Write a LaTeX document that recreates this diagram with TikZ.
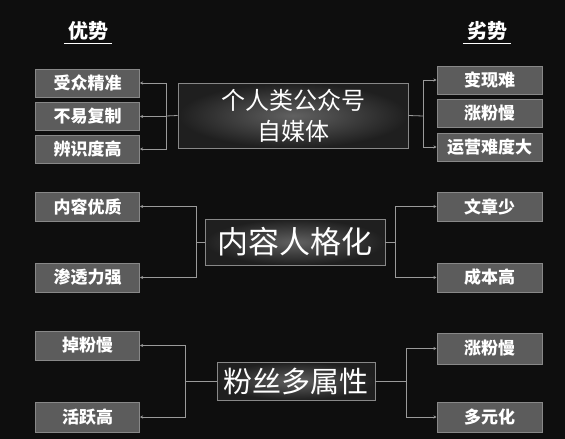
\documentclass[tikz,border=0pt]{standalone}
\usepackage{fontspec}
\setmainfont{Noto Sans CJK SC}
\usetikzlibrary{arrows.meta}
\definecolor{bgdark}{HTML}{0E0E0E}
\definecolor{boxgrey}{HTML}{5C5C5C}
\definecolor{edgegrey}{HTML}{888888}
\definecolor{linkgrey}{HTML}{9A9A9A}

\begin{document}
\begin{tikzpicture}[x=1pt,y=-1pt,
  item/.style={draw=edgegrey,line width=1pt,fill=boxgrey,text=white,font=\fontsize{17}{20}\selectfont\bfseries,minimum width=104pt,minimum height=28pt,inner sep=0pt},
  topic/.style={draw=edgegrey,line width=0.8pt,inner color=black!62,outer color=black!88,text=white,align=center,inner sep=0pt},
  head/.style={text=white,font=\fontsize{20}{24}\selectfont\bfseries,inner xsep=4pt,inner ysep=3pt},
  link/.style={draw=linkgrey,line width=0.8pt},
  >={Stealth[length=3pt,width=3pt]}]
\useasboundingbox[fill=bgdark] (0,0) rectangle (565,439);
\node[head] (adv) at (88,31) {优势};
\node[head] (dis) at (487,31) {劣势};
\draw[white,line width=1.4pt] (adv.south west)--(adv.south east);
\draw[white,line width=1.4pt] (dis.south west)--(dis.south east);

\node[topic,minimum width=230pt,minimum height=65pt,font=\fontsize{24}{31}\selectfont] (self) at (293,115.5) {个人类公众号\\自媒体};
\node[item] (a1) at (87.5,83) {受众精准};
\node[item] (a2) at (87.5,116.5) {不易复制};
\node[item] (a3) at (87.5,149) {辨识度高};
\node[item,minimum width=105pt] (b1) at (489.5,80) {变现难};
\node[item,minimum width=105pt] (b2) at (489.5,113.5) {涨粉慢};
\node[item,minimum width=105pt] (b3) at (489.5,147) {运营难度大};
\coordinate (ja) at (166,116);
\coordinate (jb) at (423,116);
\draw[link] (self.west)--(ja);
\draw[link,->] (ja) |- (a1.east);
\draw[link,->] (ja) |- (a2.east);
\draw[link,->] (ja) |- (a3.east);
\draw[link] (self.east)--(jb);
\draw[link,->] (jb) |- (b1.west);
\draw[link,->] (jb) |- (b3.west);

\node[topic,minimum width=180pt,minimum height=46pt,font=\fontsize{31}{36}\selectfont] (persona) at (295,242) {内容人格化};
\node[item,minimum height=29pt] (c1) at (87.5,206.5) {内容优质};
\node[item,minimum height=29pt] (c2) at (87.5,277.5) {渗透力强};
\node[item,minimum width=105pt,minimum height=29pt] (d1) at (489.5,206.5) {文章少};
\node[item,minimum width=105pt,minimum height=29pt] (d2) at (489.5,277.5) {成本高};
\coordinate (jc) at (196,242);
\coordinate (jd) at (395,242);
\draw[link] (persona.west)--(jc);
\draw[link,->] (jc) |- (c1.east);
\draw[link,->] (jc) |- (c2.east);
\draw[link] (persona.east)--(jd);
\draw[link,->] (jd) |- (d1.west);
\draw[link,->] (jd) |- (d2.west);

\node[topic,minimum width=158pt,minimum height=38pt,font=\fontsize{29}{34}\selectfont] (fans) at (296,381) {粉丝多属性};
\node[item,minimum height=29pt] (e1) at (87.5,345.5) {掉粉慢};
\node[item,minimum height=30pt] (e2) at (87.5,417) {活跃高};
\node[item,minimum width=105pt,minimum height=31pt] (f1) at (489.5,348.5) {涨粉慢};
\node[item,minimum width=105pt,minimum height=30pt] (f2) at (489.5,417) {多元化};
\coordinate (je) at (185,381);
\coordinate (jf) at (406,381);
\draw[link] (fans.west)--(je);
\draw[link,->] (je) |- (e1.east);
\draw[link,->] (je) |- (e2.east);
\draw[link] (fans.east)--(jf);
\draw[link,->] (jf) |- (f1.west);
\draw[link,->] (jf) |- (f2.west);
\end{tikzpicture}
\end{document}
